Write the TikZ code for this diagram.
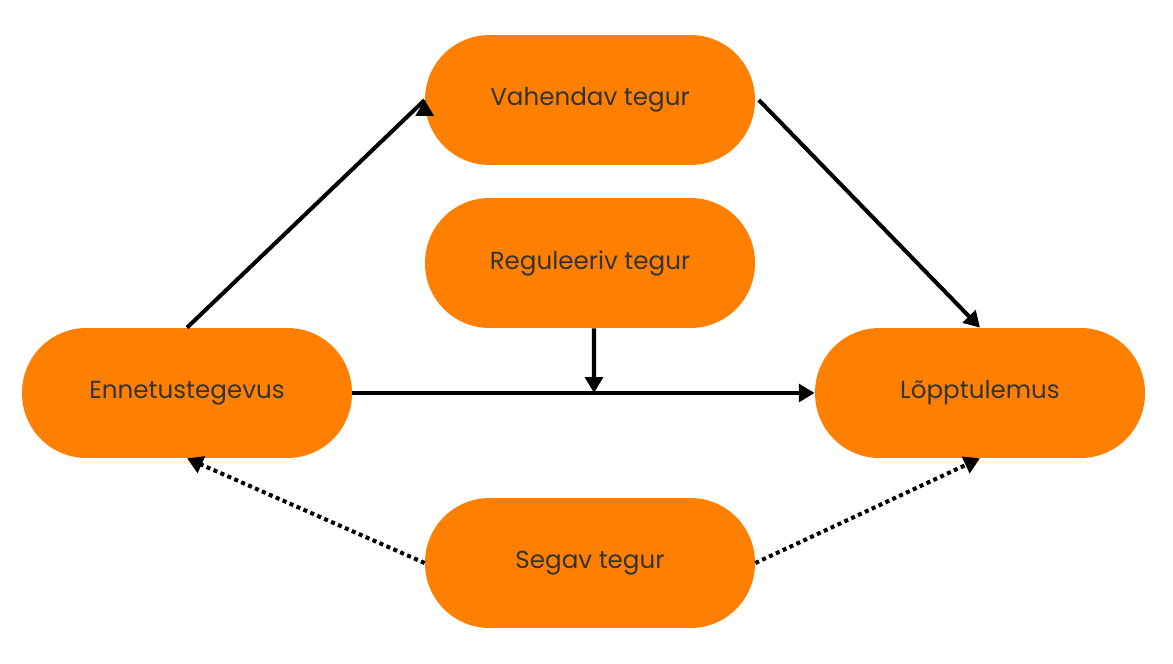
\documentclass[tikz,border=0pt]{standalone}
\usepackage{fontspec}
\setmainfont{Poppins}
\usetikzlibrary{arrows.meta}
\definecolor{org}{HTML}{FF8000}
\definecolor{txt}{HTML}{333333}
\begin{document}
\begin{tikzpicture}[x=0.02cm,y=-0.02cm,
 pill/.style={fill=org,rounded corners=1.29cm,minimum width=6.6cm,minimum height=2.6cm,text=txt,font=\fontsize{14}{16}\selectfont},
 ar/.style={line width=2.3pt,-{Triangle[length=9pt,width=10pt]}},
 dar/.style={ar,dotted}]
\useasboundingbox (0,0) rectangle (1173,663);
\node[pill] (v) at (590,100) {Vahendav tegur};
\node[pill] (r) at (590,263) {Reguleeriv tegur};
\node[pill] (e) at (187,393) {Ennetustegevus};
\node[pill] (l) at (980,393) {Lõpptulemus};
\node[pill] (s) at (590,563) {Segav tegur};
\coordinate (m) at (594,393);
\draw[ar] (e.north) -- (v.south west |- 0,100) ++(0,0);
\draw[ar] (v.east) ++(2pt,0) -- (l.north);
\draw[ar] (e.east) -- (l.west);
\draw[ar] (r.south) ++(0.08cm,0) -- (m);
\draw[dar] (s.west) -- (e.south);
\draw[dar] (s.east) -- (l.south);
\end{tikzpicture}
\end{document}
